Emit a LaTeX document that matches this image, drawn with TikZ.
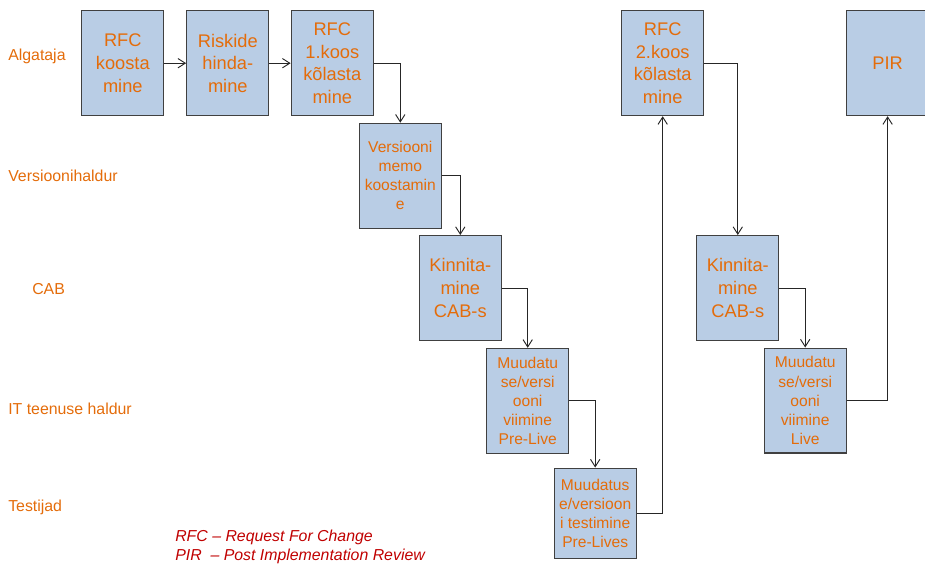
\documentclass[tikz,border=0pt]{standalone}
\usepackage{fontspec}
\setmainfont{Liberation Sans}
\usetikzlibrary{arrows.meta}
\definecolor{boxfill}{RGB}{185,205,229}
\definecolor{boxline}{RGB}{64,64,64}
\definecolor{txtorange}{RGB}{228,108,10}
\definecolor{legendred}{RGB}{192,0,0}
\tikzset{
  x=0.75pt, y=-0.75pt,
  stepbox/.style={draw=boxline, line width=0.8pt, fill=boxfill, inner sep=0pt,
    minimum width=61.7pt, minimum height=78.7pt, align=center, text=txtorange,
    font=\fontsize{13.7}{16.9}\selectfont},
  smallbox/.style={stepbox, font=\fontsize{11.7}{14.3}\selectfont},
  lane/.style={anchor=west, text=txtorange, inner sep=0pt, font=\fontsize{11.9}{14}\selectfont},
  legend/.style={anchor=west, text=legendred, inner sep=0pt, font=\fontsize{11.9}{14}\selectfont\itshape},
  arr/.style={draw=black!85, line width=0.7pt, -{Straight Barb[length=5.5pt, width=7pt, line width=0.7pt]}}
}
\begin{document}
\begin{tikzpicture}
\useasboundingbox (0,0) rectangle (925,564);
\begin{scope}
\clip (0,0) rectangle (925,564);

% swimlane names
\node[lane] (l1) at (8,56) {Algataja};
\node[lane] (l2) at (8,176) {Versioonihaldur};
\node[lane] (l3) at (32,289) {CAB};
\node[lane] (l4) at (8,409) {IT teenuse haldur};
\node[lane] (l5) at (8,507) {Testijad};

% process steps
\node[stepbox] (b1) at (122.8,63.2) {RFC\\koosta\\mine};
\node[stepbox] (b2) at (227.8,63.2) {Riskide\\hinda-\\mine};
\node[stepbox] (b3) at (332.3,63.2) {RFC\\1.koos\\kõlasta\\mine};
\node[smallbox] (b4) at (400.3,175.7) {Versiooni\\memo\\koostamin\\e};
\node[stepbox] (b5) at (460.3,288) {Kinnita-\\mine\\CAB-s};
\node[smallbox] (b6) at (527.7,400.8) {Muudatu\\se/versi\\ooni\\viimine\\Pre-Live};
\node[smallbox, minimum height=67.7pt] (b7) at (595.2,513.2) {Muudatus\\e/versioon\\i testimine\\Pre-Lives};
\node[stepbox] (b8) at (662.7,63.2) {RFC\\2.koos\\kõlasta\\mine};
\node[stepbox] (b9) at (737.8,288) {Kinnita-\\mine\\CAB-s};
\node[smallbox] (b10) at (805.2,400.5) {Muudatu\\se/versi\\ooni\\viimine\\Live};
\node[stepbox] (pir) at (887.6,63.2) {PIR};

% flow
\draw[arr] (b1) -- (b2);
\draw[arr] (b2) -- (b3);
\draw[arr] (b3.east) -| (b4.north);
\draw[arr] (b4.east) -| (b5.north);
\draw[arr] (b5.east) -| (b6.north);
\draw[arr] (b6.east) -| (b7.north);
\draw[arr] (b7.east) -| (b8.south);
\draw[arr] (b8.east) -| (b9.north);
\draw[arr] (b9.east) -| (b10.north);
\draw[arr] (b10.east) -| (pir.south);

% abbreviations
\node[legend] (g1) at (175,537) {RFC – Request For Change};
\node[legend] (g2) at (175,556) {PIR \ – Post Implementation Review};
\end{scope}
\end{tikzpicture}
\end{document}
